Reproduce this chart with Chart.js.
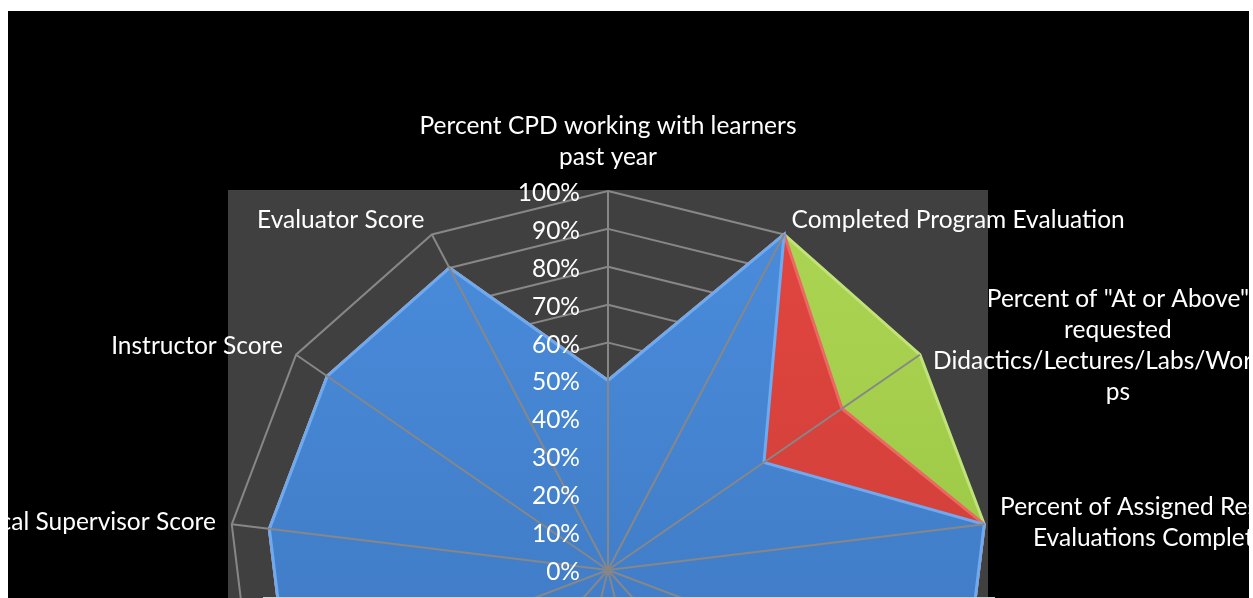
<!DOCTYPE html>
<html>
<head>
<meta charset="utf-8">
<script src="https://cdn.jsdelivr.net/npm/chart.js@4.4.1/dist/chart.umd.min.js"></script>
<style>
  html, body { margin: 0; padding: 0; background: #fff; overflow: hidden; }
  #frame { position: absolute; left: 8px; top: 11px; width: 1241px; height: 587px; overflow: hidden; background: #000; }
  #radar { position: absolute; left: 0; top: 0; }
  #edge { position: absolute; left: 263px; top: 597px; width: 732px; height: 1px; background: #c9d3d3; }
</style>
</head>
<body>
<div id="frame"><canvas id="radar" width="1241" height="958"></canvas></div>
<div id="edge"></div>
<script>
// axis names, already wrapped the way the original shows them
const categories = [
    ['Percent CPD working with learners', 'past year'],
    ['Completed Program Evaluation'],
    ['Percent of "At or Above"', 'requested', 'Didactics/Lectures/Labs/Worksho', 'ps'],
    ['Percent of Assigned Resident', 'Evaluations Completed'],
    ['Preceptor Score'],
    ['Site Score'],
    ['Mentor Score'],
    ['Faculty Score'],
    ['Peer Score'],
    ['Advisor Score'],
    ['Clinical Supervisor Score'],
    ['Instructor Score'],
    ['Evaluator Score']
]
const seriesNames = ['Series 1', 'Series 2', 'Series 3']
const blueValues = [50, 100, 50, 100, 100, 100, 90, 90, 90, 90, 90, 90, 90]
const redValues = [50, 100, 75, 100, 100, 100, 90, 90, 90, 90, 90, 90, 90]
const greenValues = [50, 100, 100, 100, 100, 100, 90, 90, 90, 90, 90, 90, 90]
const tickLabels = ['0%', '10%', '20%', '30%', '40%', '50%', '60%', '70%', '80%', '90%', '100%']

const FONT_FAMILY = 'Lato'
const FONT_SIZE = 24.5
const LINE_H = 31

function shade(top, bottom) {
    return (c) => {
        var area = c.chart.chartArea
        if (!area) return top
        var g = c.chart.ctx.createLinearGradient(0, area.top, 0, area.bottom)
        g.addColorStop(0, top)
        g.addColorStop(1, bottom)
        return g
    }
}

const plotBackground = {
    id: 'plotBackground',
    beforeDraw(chart) {
        var ctx = chart.ctx, a = chart.chartArea
        ctx.save()
        ctx.fillStyle = '#404040'
        ctx.fillRect(a.left - 1, a.top - 1, a.width + 2, a.height + 2)
        ctx.restore()
    }
}

// spokes sit on top of the filled areas in the original, so draw them after the datasets
const spokesAndText = {
    id: 'spokesAndText',
    afterDatasetsDraw(chart) {
        var scale = chart.scales.r
        var ctx = chart.ctx
        var n = chart.data.labels.length
        ctx.save()
        ctx.strokeStyle = '#878787'
        ctx.lineWidth = 2
        for (var i = 0; i < n; i++) {
            var p = scale.getPointPosition(i, scale.drawingArea)
            ctx.beginPath()
            ctx.moveTo(scale.xCenter, scale.yCenter)
            ctx.lineTo(p.x, p.y)
            ctx.stroke()
        }

        ctx.fillStyle = '#ffffff'
        ctx.font = FONT_SIZE + 'px ' + FONT_FAMILY
        ctx.textBaseline = 'middle'
        ctx.textAlign = 'right'
        scale.ticks.forEach((t, k) => {
            var d = scale.getDistanceFromCenterForValue(t.value)
            ctx.fillText(tickLabels[k], scale.xCenter - 28, scale.yCenter - d + 2)
        })

        ctx.textAlign = 'center'
        for (var i = 0; i < n; i++) {
            var lines = chart.data.labels[i]
            var angle = scale.getIndexAngle(i)
            var s = Math.sin(angle), c = Math.cos(angle)
            var anchor = scale.getPointPosition(i, scale.drawingArea + 16)
            var w = Math.max(...lines.map(l => ctx.measureText(l).width))
            var h = lines.length * LINE_H
            var cx, top
            if (Math.abs(s) < 0.05) {
                cx = anchor.x
                top = c > 0 ? anchor.y - h - 2 : anchor.y + 2
            } else {
                cx = s > 0 ? anchor.x + w / 2 : anchor.x - w / 2
                top = anchor.y - h / 2
            }
            lines.forEach((l, k) => ctx.fillText(l, cx, top + LINE_H * (k + 0.5)))
        }
        ctx.restore()
    }
}

var ctx = document.getElementById('radar')
var chart = new Chart(ctx, {
    type: 'radar',
    data: {
        labels: categories,
        datasets: [{
            label: seriesNames[0],
            data: blueValues,
            backgroundColor: shade('#4a8ddd', '#3a70b6'),
            borderColor: '#6eaaf0',
            borderWidth: 3,
            fill: true
        }, {
            label: seriesNames[1],
            data: redValues,
            backgroundColor: shade('#e2463f', '#c33a35'),
            borderColor: '#ec6863',
            borderWidth: 3,
            fill: true
        }, {
            label: seriesNames[2],
            data: greenValues,
            backgroundColor: shade('#add553', '#8dbd3a'),
            borderColor: '#c0e378',
            borderWidth: 3,
            fill: true
        }]
    },
    options: {
        responsive: false,
        animation: false,
        layout: { padding: { left: 221, right: 262, top: 180, bottom: 20 } },
        elements: {
            line: { tension: 0, borderJoinStyle: 'miter' },
            point: { radius: 0, hoverRadius: 0 }
        },
        plugins: {
            legend: { display: false },
            tooltip: { enabled: false }
        },
        scales: {
            r: {
                min: 0,
                max: 100,
                ticks: { stepSize: 10, display: false },
                pointLabels: { display: false },
                angleLines: { display: false },
                grid: { color: '#878787', lineWidth: 2, circular: false }
            }
        }
    },
    plugins: [plotBackground, spokesAndText]
})
</script>
</body>
</html>
